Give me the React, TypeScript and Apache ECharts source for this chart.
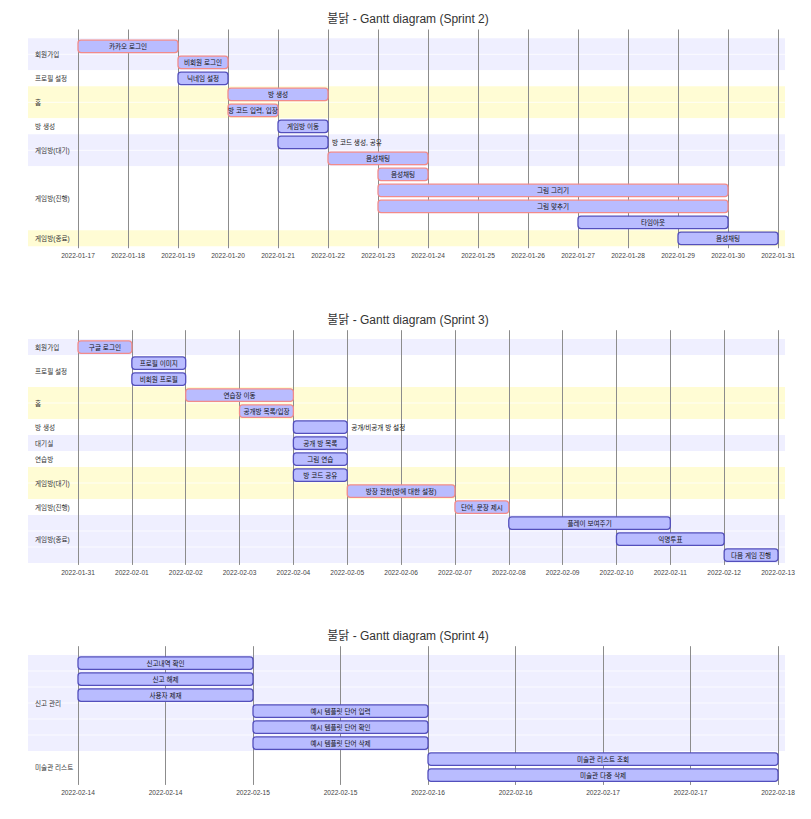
import React, { useEffect, useRef } from 'react';
import * as echarts from 'echarts';

// ---------- Sprint 2 ----------
const s2Title = '불닭 - Gantt diagram (Sprint 2)';
const s2Range = ['2022-01-17', '2022-01-31'];
const s2Sections = ['회원가입', '프로필 설정', '홈', '방 생성', '게임방(대기)', '게임방(진행)', '게임방(종료)'];
const s2Tasks = ['카카오 로그인', '비회원 로그인', '닉네임 설정', '방 생성', '방 코드 입력, 입장', '게임방 이동', '방 코드 생성, 공유', '음성채팅', '음성채팅', '그림 그리기', '그림 맞추기', '타임아웃', '음성채팅'];
const s2TaskSection = [0, 0, 1, 2, 2, 3, 4, 4, 5, 5, 5, 5, 6];
const s2Start = ['2022-01-17', '2022-01-19', '2022-01-19', '2022-01-20', '2022-01-20', '2022-01-21', '2022-01-21', '2022-01-22', '2022-01-23', '2022-01-23', '2022-01-23', '2022-01-27', '2022-01-29'];
const s2End = ['2022-01-19', '2022-01-20', '2022-01-20', '2022-01-22', '2022-01-21', '2022-01-22', '2022-01-22', '2022-01-24', '2022-01-24', '2022-01-30', '2022-01-30', '2022-01-30', '2022-01-31'];
const s2Crit = [1, 1, 0, 1, 1, 0, 0, 1, 1, 1, 1, 0, 0];
const s2Outside = [0, 0, 0, 0, 0, 0, 1, 0, 0, 0, 0, 0, 0];

// ---------- Sprint 3 ----------
const s3Title = '불닭 - Gantt diagram (Sprint 3)';
const s3Range = ['2022-01-31', '2022-02-13'];
const s3Sections = ['회원가입', '프로필 설정', '홈', '방 생성', '대기실', '연습방', '게임방(대기)', '게임방(진행)', '게임방(종료)'];
const s3Tasks = ['구글 로그인', '프로필 이미지', '비회원 프로필', '연습장 이동', '공개방 목록/입장', '공개/비공개 방 설정', '공개 방 목록', '그림 연습', '방 코드 공유', '방장 권한(방에 대한 설정)', '단어, 문장 제시', '플레이 보여주기', '익명투표', '다음 게임 진행'];
const s3TaskSection = [0, 1, 1, 2, 2, 3, 4, 5, 6, 6, 7, 8, 8, 8];
const s3Start = ['2022-01-31', '2022-02-01', '2022-02-01', '2022-02-02', '2022-02-03', '2022-02-04', '2022-02-04', '2022-02-04', '2022-02-04', '2022-02-05', '2022-02-07', '2022-02-08', '2022-02-10', '2022-02-12'];
const s3End = ['2022-02-01', '2022-02-02', '2022-02-02', '2022-02-04', '2022-02-04', '2022-02-05', '2022-02-05', '2022-02-05', '2022-02-05', '2022-02-07', '2022-02-08', '2022-02-11', '2022-02-12', '2022-02-13'];
const s3Crit = [1, 0, 0, 1, 1, 0, 0, 0, 0, 1, 1, 0, 0, 0];
const s3Outside = [0, 0, 0, 0, 0, 1, 0, 0, 0, 0, 0, 0, 0, 0];

// ---------- Sprint 4 ----------
const s4Title = '불닭 - Gantt diagram (Sprint 4)';
const s4Range = ['2022-02-14', '2022-02-18'];
const s4Sections = ['신고 관리', '미술관 리스트'];
const s4Tasks = ['신고내역 확인', '신고 해제', '사용자 제재', '예시 템플릿 단어 입력', '예시 템플릿 단어 확인', '예시 템플릿 단어 삭제', '미술관 리스트 조회', '미술관 다중 삭제'];
const s4TaskSection = [0, 0, 0, 0, 0, 0, 1, 1];
const s4Start = ['2022-02-14', '2022-02-14', '2022-02-14', '2022-02-15', '2022-02-15', '2022-02-15', '2022-02-16', '2022-02-16'];
const s4End = ['2022-02-15', '2022-02-15', '2022-02-15', '2022-02-16', '2022-02-16', '2022-02-16', '2022-02-18', '2022-02-18'];
const s4Crit = [0, 0, 0, 0, 0, 0, 0, 0];
const s4Outside = [0, 0, 0, 0, 0, 0, 0, 0];

const DAY_MS = 86400000;
const HALF_DAY_MS = 43200000;

const toMs = (s: string) => Date.parse(s + 'T00:00:00Z');
const fmtDate = (v: number) => {
  const dt = new Date(v);
  const p = (n: number) => (n < 10 ? '0' + n : '' + n);
  return dt.getUTCFullYear() + '-' + p(dt.getUTCMonth() + 1) + '-' + p(dt.getUTCDate());
};

const FONT = "'Liberation Sans', 'Noto Sans CJK KR', sans-serif";
const SECTION_COLORS = ['#efefff', '#ffffff', '#fffcd4', '#ffffff'];
const BAR_FILL = '#b9bcff';
const CRIT_STROKE = '#f28b8b';
const NORMAL_STROKE = '#534fbc';

const ROW_H = 16;
const TOP_PAD = 0.55;
const BOT_PAD = 0.12;

const panels = [
  { title: s2Title, titleY: 19, rowStart: 38.3, range: s2Range, interval: DAY_MS, sections: s2Sections, tasks: s2Tasks, taskSection: s2TaskSection, start: s2Start, end: s2End, crit: s2Crit, outside: s2Outside },
  { title: s3Title, titleY: 320, rowStart: 339, range: s3Range, interval: DAY_MS, sections: s3Sections, tasks: s3Tasks, taskSection: s3TaskSection, start: s3Start, end: s3End, crit: s3Crit, outside: s3Outside },
  { title: s4Title, titleY: 636, rowStart: 655, range: s4Range, interval: HALF_DAY_MS, sections: s4Sections, tasks: s4Tasks, taskSection: s4TaskSection, start: s4Start, end: s4End, crit: s4Crit, outside: s4Outside },
];

function buildOption() {
  const grids: any[] = [];
  const xAxes: any[] = [];
  const yAxes: any[] = [];
  const series: any[] = [];
  const graphics: any[] = [];

  panels.forEach((p, pi) => {
    const n = p.tasks.length;
    const xMin = toMs(p.range[0]);
    const xMax = toMs(p.range[1]);
    grids.push({
      left: 78,
      width: 700,
      top: p.rowStart - TOP_PAD * ROW_H,
      height: (n + TOP_PAD + BOT_PAD) * ROW_H,
      containLabel: false,
      outerBoundsMode: 'none',
    });
    xAxes.push({
      type: 'value',
      gridIndex: pi,
      min: xMin,
      max: xMax,
      interval: p.interval,
      z: 2,
      axisLine: { show: false },
      axisTick: { show: false },
      splitLine: { show: true, lineStyle: { color: '#8c8c8c', width: 1 } },
      axisLabel: {
        formatter: (v: number) => fmtDate(v),
        fontSize: 6.6,
        color: '#444',
        fontFamily: FONT,
        margin: 4,
        showMinLabel: true,
        showMaxLabel: true,
        hideOverlap: false,
      },
    });
    yAxes.push({
      type: 'value',
      gridIndex: pi,
      min: -TOP_PAD,
      max: n + BOT_PAD,
      inverse: true,
      show: false,
      splitLine: { show: false },
    });

    // section data: [sectionIndex, firstRow, lastRow(exclusive), xMin]
    const secData: number[][] = [];
    p.sections.forEach((_, si) => {
      const rows = p.taskSection.map((s, r) => (s === si ? r : -1)).filter((r) => r >= 0);
      if (rows.length) secData.push([si, rows[0], rows[rows.length - 1] + 1, xMin]);
    });

    series.push({
      type: 'custom',
      xAxisIndex: pi,
      yAxisIndex: pi,
      z: 1,
      silent: true,
      clip: false,
      encode: { x: 3, y: [1, 2] },
      data: secData,
      renderItem: (params: any, api: any) => {
        const si = api.value(0);
        const r0 = api.value(1);
        const r1 = api.value(2);
        const x0 = api.coord([xMin, r0])[0] - 50;
        const x1 = api.coord([xMax, r0])[0] + 7;
        const y0 = api.coord([xMin, r0])[1];
        const y1 = api.coord([xMin, r1])[1];
        const children: any[] = [
          {
            type: 'rect',
            shape: { x: x0, y: y0, width: x1 - x0, height: y1 - y0 },
            style: { fill: SECTION_COLORS[si % 4] },
          },
        ];
        for (let r = r0 + 1; r < r1; r++) {
          const yy = api.coord([xMin, r])[1];
          children.push({
            type: 'line',
            shape: { x1: x0, y1: yy, x2: x1, y2: yy },
            style: { stroke: '#ffffff', lineWidth: 1, opacity: 0.8 },
          });
        }
        children.push({
          type: 'text',
          x: x0 + 7,
          y: (y0 + y1) / 2,
          style: {
            text: p.sections[si],
            fontSize: 6.6,
            fontFamily: FONT,
            fill: '#333',
            align: 'left',
            verticalAlign: 'middle',
          },
        });
        return { type: 'group', children };
      },
    });

    // task data: [row, start, end, crit, outside]
    const taskData = p.tasks.map((_, r) => [r, toMs(p.start[r]), toMs(p.end[r]), p.crit[r], p.outside[r]]);
    series.push({
      type: 'custom',
      xAxisIndex: pi,
      yAxisIndex: pi,
      z: 3,
      clip: false,
      encode: { x: [1, 2], y: 0 },
      data: taskData,
      renderItem: (params: any, api: any) => {
        const r = api.value(0);
        const a = api.coord([api.value(1), r]);
        const b = api.coord([api.value(2), r]);
        const crit = api.value(3) === 1;
        const outside = api.value(4) === 1;
        const top = a[1] + 1.9;
        const h = 12.4;
        const label = p.tasks[r];
        return {
          type: 'group',
          children: [
            {
              type: 'rect',
              shape: { x: a[0], y: top, width: b[0] - a[0], height: h, r: 3 },
              style: { fill: BAR_FILL, stroke: crit ? CRIT_STROKE : NORMAL_STROKE, lineWidth: 1.3 },
            },
            {
              type: 'text',
              x: outside ? b[0] + 4 : (a[0] + b[0]) / 2,
              y: top + h / 2,
              style: {
                text: label,
                fontSize: 6.6,
                fontFamily: FONT,
                fill: '#111',
                align: outside ? 'left' : 'center',
                verticalAlign: 'middle',
              },
            },
          ],
        };
      },
    });

    graphics.push({
      type: 'text',
      x: 408,
      y: p.titleY,
      style: {
        text: p.title,
        fontSize: 12,
        fontFamily: FONT,
        fill: '#333',
        align: 'center',
        verticalAlign: 'middle',
      },
    });
  });

  return {
    animation: false,
    backgroundColor: '#ffffff',
    grid: grids,
    xAxis: xAxes,
    yAxis: yAxes,
    series,
    graphic: graphics,
  };
}

export default function App() {
  const ref = useRef<HTMLDivElement>(null);
  useEffect(() => {
    if (!ref.current) return;
    const chart = echarts.init(ref.current, undefined, { renderer: 'svg' });
    chart.setOption(buildOption() as any);
    return () => chart.dispose();
  }, []);
  return (
    <div style={{ position: 'absolute', left: 0, top: 0, width: 811, height: 819, background: '#fff' }}>
      <div ref={ref} style={{ width: 811, height: 819 }} />
    </div>
  );
}
